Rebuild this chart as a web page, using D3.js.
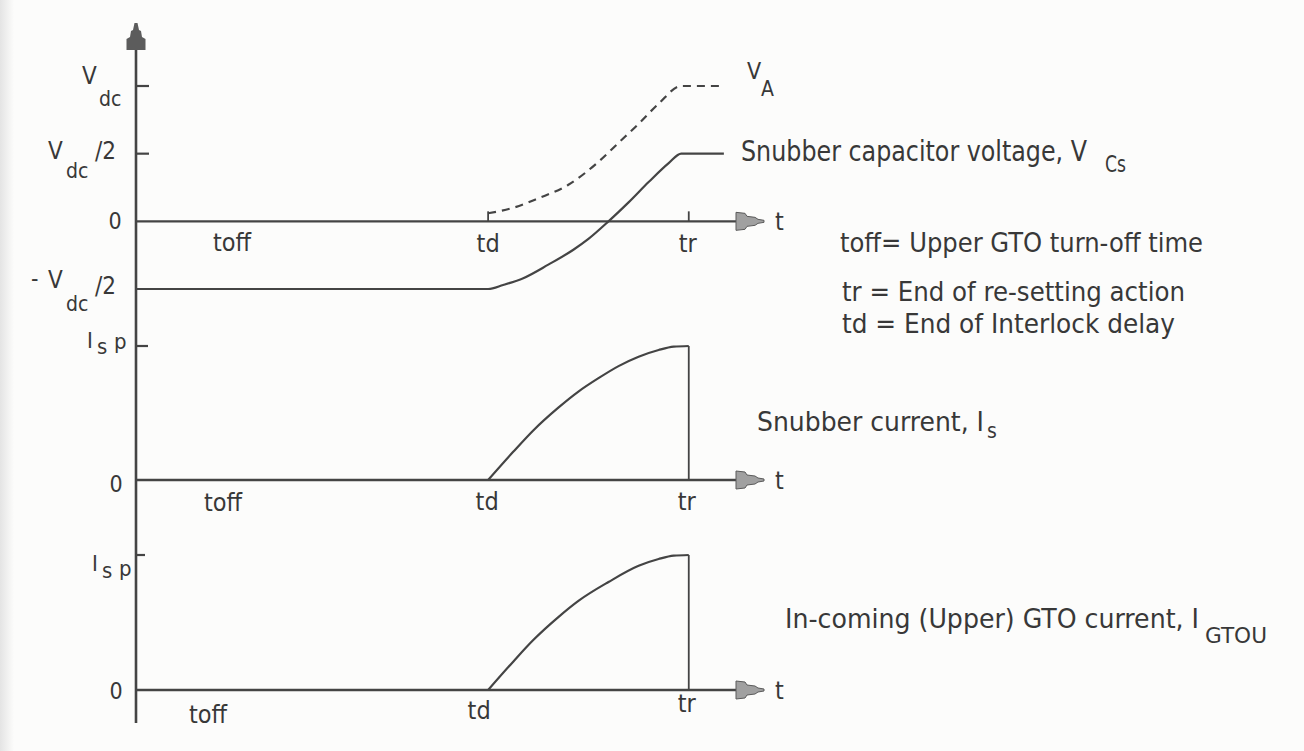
<!DOCTYPE html>
<html>
<head>
<meta charset="utf-8">
<script src="https://cdn.jsdelivr.net/npm/d3@7"></script>
<style>
  html, body { margin: 0; padding: 0; background: #fcfcfb; }
  svg { display: block; }
  text { font-family: "DejaVu Sans Condensed", "Liberation Sans Narrow", sans-serif; fill: #383838; }
</style>
</head>
<body>
<svg id="chart" width="1304" height="751"></svg>
<script>
// ---- time axis (arbitrary time units) ----
const timeEventNames = ["td", "tr"];
const timeEventValues = [7, 11];
const timeEnd = 12.5;

// ---- top: voltages, in units of Vdc ----
const voltTickValues = [1, 0.5, 0, -0.5];
const vcsTime  = [0, 7.0, 7.3, 7.7, 8.2, 8.7, 9.0, 9.4, 9.8, 10.2, 10.6, 10.85, 11.7];
const vcsValue = [-0.5, -0.5, -0.47, -0.42, -0.32, -0.21, -0.13, 0, 0.14, 0.29, 0.43, 0.5, 0.5];
const vaTime   = [7.0, 7.5, 8.0, 8.6, 9.2, 9.6, 10.0, 10.4, 10.85, 11.7];
const vaValue  = [0.06, 0.1, 0.17, 0.27, 0.44, 0.58, 0.72, 0.87, 1.0, 1.0];

// ---- middle: snubber current, in units of Isp ----
const currentTickValues = [1, 0];
const isTime  = [7, 7.5, 7.9, 8.4, 8.8, 9.2, 9.6, 10.0, 10.4, 10.7, 11, 11];
const isValue = [0, 0.21, 0.37, 0.54, 0.66, 0.76, 0.85, 0.92, 0.97, 0.995, 1.0, 0];

// ---- bottom: in-coming (upper) GTO current, in units of Isp ----
const gtoTime  = [7, 7.5, 7.9, 8.4, 8.8, 9.4, 10.0, 10.4, 10.7, 11, 11];
const gtoValue = [0, 0.21, 0.37, 0.54, 0.66, 0.8, 0.92, 0.97, 0.995, 1.0, 0];

// ---- annotation text ----
const legendNotes = [
  "toff= Upper GTO turn-off time",
  "tr = End of re-setting action",
  "td = End of Interlock delay"
];
const periodLabel = "toff";
const timeSymbol = "t";

const INK = "#444444";
const svg = d3.select("#chart");

// faint greyish scan edge on the left
const defs = svg.append("defs");
const edge = defs.append("linearGradient").attr("id", "edge");
edge.append("stop").attr("offset", "0%").attr("stop-color", "#e4e4e4");
edge.append("stop").attr("offset", "100%").attr("stop-color", "#fcfcfb");
svg.append("rect").attr("width", 1304).attr("height", 751).attr("fill", "#fcfcfb");
svg.append("rect").attr("width", 14).attr("height", 751).attr("fill", "url(#edge)");

const x = d3.scaleLinear().domain([0, timeEnd]).range([137, 764]);
const yV = d3.scaleLinear().domain([-0.5, 1]).range([289, 86]);
const yS = d3.scaleLinear().domain([0, 1]).range([480, 346]);
const yG = d3.scaleLinear().domain([0, 1]).range([690, 555]);

const axisX = x(0) - 1;

// vertical axis with stepped arrowhead
svg.append("line").attr("x1", axisX).attr("x2", axisX).attr("y1", 40).attr("y2", 723)
  .attr("stroke", INK).attr("stroke-width", 2.6);
const upHead = [[-1.5,0],[1.5,0],[3,7],[5,8],[6,14],[9.5,16],[9.5,27],[-9.5,27],[-9.5,16],[-6,14],[-5,8],[-3,7]];
svg.append("polygon")
  .attr("points", upHead.map(p => [axisX + p[0], 23 + p[1]].join(",")).join(" "))
  .attr("fill", "#5c5c5c");

// horizontal time axis with arrow for a panel
const rightHead = [[-28,-9],[-19,-8],[-17,-5],[-9,-4],[-6,-2],[0,-1],[0,1],[-6,2],[-9,4],[-17,5],[-19,8],[-28,9]];
function timeAxis(y0) {
  svg.append("line").attr("x1", axisX).attr("x2", x(11.95)).attr("y1", y0).attr("y2", y0)
    .attr("stroke", INK).attr("stroke-width", 2.4);
  svg.append("polygon")
    .attr("points", rightHead.map(p => [x(timeEnd) + p[0], y0 + p[1]].join(",")).join(" "))
    .attr("fill", "#a0a0a0").attr("stroke", "#5a5a5a").attr("stroke-width", 1);
  svg.append("text").attr("x", x(timeEnd) + 11).attr("y", y0 + 9)
    .attr("font-size", 25).text(timeSymbol);
}

function txt(s, px, py, size, anchor) {
  return svg.append("text").attr("x", px).attr("y", py).attr("font-size", size)
    .attr("text-anchor", anchor || "start").text(s);
}

function yTick(yScale, v, len) {
  svg.append("line").attr("x1", axisX).attr("x2", axisX + len)
    .attr("y1", yScale(v)).attr("y2", yScale(v))
    .attr("stroke", INK).attr("stroke-width", 2.2);
}

const line = d3.line().x(d => x(d[0])).y(d => d[1]);

// ================= top panel =================
const y0V = yV(0);
timeAxis(y0V);
yTick(yV, voltTickValues[0], 13);
yTick(yV, voltTickValues[1], 13);
// small markers on the axis at td and tr
timeEventValues.forEach(t => {
  svg.append("line").attr("x1", x(t)).attr("x2", x(t)).attr("y1", y0V).attr("y2", y0V - 10)
    .attr("stroke", INK).attr("stroke-width", 1.8);
});

// Vdc
let ty = yV(voltTickValues[0]);
txt("V", 82, ty - 2, 24);
txt("dc", 99, ty + 20, 21);
// Vdc/2
ty = yV(voltTickValues[1]);
txt("V", 48, ty + 5, 24);
txt("dc", 66, ty + 24, 21);
txt("/2", 95, ty + 5, 24);
// 0
ty = yV(voltTickValues[2]);
txt("0", 115, ty + 8, 23, "middle");
// -Vdc/2
ty = yV(voltTickValues[3]);
txt("-", 31, ty - 3, 23);
txt("V", 48, ty - 1, 24);
txt("/2", 95, ty + 5, 24);
txt("dc", 66, ty + 22, 21);

txt(periodLabel, 232, y0V + 30, 25, "middle");
txt(timeEventNames[0], x(timeEventValues[0]), y0V + 31, 25, "middle");
txt(timeEventNames[1], x(timeEventValues[1]) - 1, y0V + 31, 25, "middle");

const vcsPts = vcsTime.map((t, i) => [t, yV(vcsValue[i])]);
const vaPts = vaTime.map((t, i) => [t, yV(vaValue[i])]);
svg.append("path").attr("d", line.curve(d3.curveMonotoneX)(vcsPts))
  .attr("fill", "none").attr("stroke", INK).attr("stroke-width", 2.2);
svg.append("path").attr("d", line.curve(d3.curveMonotoneX)(vaPts))
  .attr("fill", "none").attr("stroke", INK).attr("stroke-width", 2.2)
  .attr("stroke-dasharray", "8,6");

// curve labels
txt("V", 747, 79, 23);
txt("A", 761, 96, 21);
txt("Snubber capacitor voltage, V", 741, 161, 28).attr("textLength", 346).attr("lengthAdjust", "spacingAndGlyphs");
txt("Cs", 1105, 172, 23).attr("textLength", 21).attr("lengthAdjust", "spacingAndGlyphs");

// notes
const noteY = [252, 301, 333];
legendNotes.forEach((s, i) => {
  const w = [363, 343, 333][i];
  txt(s, i === 0 ? 840 : 842, noteY[i], 27).attr("textLength", w).attr("lengthAdjust", "spacingAndGlyphs");
});

// ================= middle panel =================
const y0S = yS(0);
timeAxis(y0S);
yTick(yS, currentTickValues[0], 12);
ty = yS(currentTickValues[0]);
txt("I", 87, ty + 2, 22);
txt("s", 97, ty + 8, 22);
txt("p", 114, ty + 3, 22);
txt("0", 116, yS(currentTickValues[1]) + 12, 23, "middle");
txt(periodLabel, 223, y0S + 31, 25, "middle");
txt(timeEventNames[0], x(timeEventValues[0]) - 1, y0S + 30, 25, "middle");
txt(timeEventNames[1], x(timeEventValues[1]) - 2, y0S + 30, 25, "middle");

const isPts = isTime.map((t, i) => [t, yS(isValue[i])]);
svg.append("path").attr("d", line.curve(d3.curveLinear)(isPts.slice(-2)))
  .attr("fill", "none").attr("stroke", INK).attr("stroke-width", 1.8);
svg.append("path").attr("d", line.curve(d3.curveMonotoneX)(isPts.slice(0, -1)))
  .attr("fill", "none").attr("stroke", INK).attr("stroke-width", 2.2);

txt("Snubber current, I", 757, 431, 27).attr("textLength", 227).attr("lengthAdjust", "spacingAndGlyphs");
txt("s", 987, 438, 21);

// ================= bottom panel =================
const y0G = yG(0);
timeAxis(y0G);
yTick(yG, currentTickValues[0], 9);
ty = yG(currentTickValues[0]);
txt("I", 92, ty + 16, 22);
txt("s", 102, ty + 23, 22);
txt("p", 119, ty + 21, 22);
txt("0", 116, yG(currentTickValues[1]) + 9, 23, "middle");
txt(periodLabel, 208, y0G + 33, 25, "middle");
txt(timeEventNames[0], x(timeEventValues[0]) - 9, y0G + 29, 25, "middle");
txt(timeEventNames[1], x(timeEventValues[1]) - 2, y0G + 22, 25, "middle");

const gtoPts = gtoTime.map((t, i) => [t, yG(gtoValue[i])]);
svg.append("path").attr("d", line.curve(d3.curveLinear)(gtoPts.slice(-2)))
  .attr("fill", "none").attr("stroke", INK).attr("stroke-width", 1.8);
svg.append("path").attr("d", line.curve(d3.curveMonotoneX)(gtoPts.slice(0, -1)))
  .attr("fill", "none").attr("stroke", INK).attr("stroke-width", 2.2);

txt("In-coming (Upper) GTO current, I", 785, 628, 27).attr("textLength", 414).attr("lengthAdjust", "spacingAndGlyphs");
txt("GTOU", 1205, 643, 22).attr("textLength", 62).attr("lengthAdjust", "spacingAndGlyphs");
</script>
</body>
</html>
